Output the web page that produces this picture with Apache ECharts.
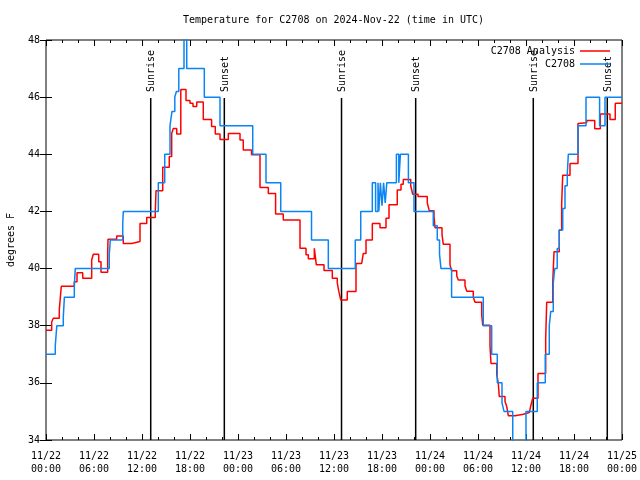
<!DOCTYPE html>
<html>
<head>
<meta charset="utf-8">
<script src="https://cdn.jsdelivr.net/npm/echarts@6/dist/echarts.min.js"></script>
<style>html,body{margin:0;padding:0;background:#fff;}#c{width:640px;height:480px;}</style>
</head>
<body>
<div id="c"></div>
<script>
// hours since 2024-11-22 00:00 UTC
var xTickLabels = ['11/22\n00:00','11/22\n06:00','11/22\n12:00','11/22\n18:00','11/23\n00:00','11/23\n06:00','11/23\n12:00','11/23\n18:00','11/24\n00:00','11/24\n06:00','11/24\n12:00','11/24\n18:00','11/25\n00:00'];
var yTicks = [34, 36, 38, 40, 42, 44, 46, 48];

var anaHours = [0, 0.71, 0.91, 1.66, 1.91, 3.54, 3.875, 4.59, 5.71, 5.91,
  6.59, 6.875, 7.71, 7.75, 8.84, 9.66, 10.71, 11.75, 12.59, 13.66,
  13.75, 14.59, 15.41, 15.71, 15.91, 16.34, 16.85, 17.5, 18.0, 18.375,
  18.84, 19.66, 20.7, 21.16, 21.75, 22.79, 24.25, 24.66, 25.7, 26.75,
  27.79, 28.7, 29.66, 31.75, 32.5, 32.79, 33.54, 33.79, 34.75, 35.79,
  36.41, 36.6, 36.75, 36.84, 37.66, 38.75, 39.46, 39.66, 40.0, 40.79,
  41.75, 42.5, 42.875, 43.91, 44.375, 44.66, 45.59, 45.84, 46.5, 47.66,
  47.91, 48.5, 48.625, 49.5, 49.66, 50.5, 50.7, 51.34, 51.54, 52.375,
  52.59, 53.41, 53.625, 54.46, 54.59, 55.5, 55.625, 56.34, 56.54, 56.66,
  57.375, 57.59, 57.79, 58.625, 59.66, 60.41, 60.59, 60.84, 61.5, 62.46,
  62.59, 63.34, 63.5, 64.16, 64.46, 64.59, 65.5, 66.5, 66.625, 67.59,
  68.59, 69.29, 70.5, 71.16, 72];
var anaTemps = [37.84, 38.13, 38.26, 38.55, 39.38, 39.54, 39.85, 39.66, 40.3, 40.5,
  40.24, 39.87, 40.5, 41.03, 41.14, 40.88, 40.95, 41.58, 41.79, 42.0,
  42.72, 43.55, 43.92, 44.73, 44.9, 44.71, 46.27, 45.88, 45.79, 45.67,
  45.83, 45.22, 44.97, 44.71, 44.52, 44.73, 44.5, 44.15, 43.98, 42.84,
  42.63, 41.91, 41.7, 40.71, 40.48, 40.34, 40.71, 40.13, 39.93, 39.66,
  39.5, 39.2, 39.02, 38.9, 39.2, 40.18, 40.24, 40.53, 41.0, 41.58,
  41.43, 41.76, 42.23, 42.75, 42.95, 43.12, 42.9, 42.6, 42.52, 42.3,
  42.02, 41.82, 41.43, 41.2, 40.85, 40.13, 39.92, 39.75, 39.6, 39.4,
  39.21, 39.0, 38.82, 38.4, 38.02, 37.3, 36.68, 36.3, 35.98, 35.52,
  35.35, 35.17, 34.85, 34.9, 34.96, 35.0, 35.19, 35.46, 36.33, 37.56,
  38.82, 39.5, 40.59, 41.35, 42.28, 43.27, 43.68, 45.08, 45.1, 45.18,
  44.89, 45.41, 45.22, 45.79, 45.79];

var obsHours = [0, 1.16, 1.35, 2.16, 2.3, 3.54, 3.66, 7.91, 8.04, 9.59,
  9.66, 14.04, 14.84, 15.5, 15.75, 16.1, 16.3, 16.6, 17.25, 17.59,
  19.79, 21.75, 25.84, 27.5, 29.34, 33.19, 35.29, 38.66, 39.34, 40.79,
  41.2, 41.5, 41.6, 41.8, 42.0, 42.2, 42.4, 42.6, 43.8, 44.1,
  44.3, 45.3, 46.0, 48.41, 48.91, 49.19, 49.375, 50.7, 54.66, 55.71,
  56.41, 57.0, 57.25, 58.34, 60.0, 61.41, 62.41, 62.91, 63.09, 63.41,
  63.59, 63.9, 64.16, 64.59, 64.875, 65.16, 65.29, 66.5, 67.5, 69.2,
  69.875, 72];
var obsTemps = [37.0, 37.3, 38.0, 38.3, 39.0, 39.4, 40.0, 40.5, 41.0, 41.55,
  42.0, 43.0, 44.0, 45.0, 45.5, 46.0, 46.2, 47.0, 48.5, 47.0,
  46.0, 45.0, 44.0, 43.0, 42.0, 41.0, 40.0, 41.0, 42.0, 43.0,
  42.0, 43.0, 42.0, 43.0, 42.2, 43.0, 42.3, 43.0, 44.0, 43.0,
  44.0, 43.0, 42.0, 41.5, 41.0, 40.5, 40.0, 39.0, 38.0, 37.0,
  36.0, 35.3, 35.0, 33.0, 35.0, 36.0, 37.0, 38.0, 38.5, 39.5,
  40.0, 40.7, 41.35, 42.1, 42.9, 43.3, 44.0, 45.0, 46.0, 45.0,
  46.0, 46.0];

var sunHours = [13.09, 22.29, 36.94, 46.21, 60.91, 70.16];
var sunLabels = ['Sunrise', 'Sunset', 'Sunrise', 'Sunset', 'Sunrise', 'Sunset'];
var sunLineTop = 45.97;

function zip(a, b) { var r = []; for (var i = 0; i < a.length; i++) r.push([a[i], b[i]]); return r; }

var FONT = 'DejaVu Sans Mono';
var chart = echarts.init(document.getElementById('c'), null, {renderer: 'canvas'});

var tickCommon = {show: true, inside: true, length: 6, lineStyle: {color: '#000', width: 1}};
var minorCommon = {show: true, splitNumber: 3, length: 3, lineStyle: {color: '#000', width: 1}};

chart.setOption({
  animation: false,
  backgroundColor: '#fff',
  title: {
    text: 'Temperature for C2708 on 2024-Nov-22 (time in UTC)',
    left: 183, top: 15, padding: 0,
    textStyle: {fontFamily: FONT, fontSize: 10, fontWeight: 'normal', color: '#000'}
  },
  legend: {
    orient: 'vertical', right: 30, top: 46, align: 'right', padding: 0,
    itemWidth: 30, itemHeight: 1.5, itemGap: 3, icon: 'rect',
    textStyle: {fontFamily: FONT, fontSize: 10, color: '#000'},
    data: ['C2708 Analysis', 'C2708']
  },
  grid: {left: 46, right: 18, top: 40, bottom: 40, containLabel: false, outerBoundsMode: 'none',
    show: true, borderColor: '#000', borderWidth: 1, backgroundColor: 'transparent'},
  xAxis: [{
    type: 'value', min: 0, max: 72, interval: 6, position: 'bottom',
    axisLine: {show: false}, splitLine: {show: false},
    axisTick: tickCommon, minorTick: minorCommon,
    axisLabel: {
      margin: 10, fontFamily: FONT, fontSize: 10, color: '#000', lineHeight: 13,
      showMinLabel: true, showMaxLabel: true,
      formatter: function (v) { return xTickLabels[Math.round(v / 6)]; }
    }
  }, {
    type: 'value', min: 0, max: 72, interval: 6, position: 'top',
    axisLine: {show: false}, splitLine: {show: false},
    axisTick: tickCommon, minorTick: minorCommon, axisLabel: {show: false}
  }],
  yAxis: [{
    type: 'value', min: yTicks[0], max: yTicks[yTicks.length - 1], interval: 2, position: 'left',
    name: 'degrees F', nameLocation: 'middle', nameGap: 30, nameRotate: 90,
    nameTextStyle: {fontFamily: FONT, fontSize: 10, color: '#000'},
    axisLine: {show: false}, splitLine: {show: false},
    axisTick: tickCommon,
    axisLabel: {margin: 6, fontFamily: FONT, fontSize: 10, color: '#000'}
  }, {
    type: 'value', min: yTicks[0], max: yTicks[yTicks.length - 1], interval: 2, position: 'right',
    axisLine: {show: false}, splitLine: {show: false},
    axisTick: tickCommon, axisLabel: {show: false}
  }],
  series: [{
    type: 'custom', name: 'sun', xAxisIndex: 0, yAxisIndex: 0, z: 1,
    data: sunHours.map(function (h, i) { return [h, i]; }),
    renderItem: function (params, api) {
      var h = api.value(0), idx = api.value(1);
      var p0 = api.coord([h, yTicks[0]]);
      var p1 = api.coord([h, sunLineTop]);
      return {type: 'group', children: [
        {type: 'line', shape: {x1: p0[0], y1: p0[1], x2: p1[0], y2: p1[1]}, style: {stroke: '#000', lineWidth: 1.5}},
        {type: 'text', x: p1[0] + 1, y: p1[1] - 6, rotation: Math.PI / 2,
          style: {text: sunLabels[idx], font: '10px "' + FONT + '"', fill: '#000', align: 'left', verticalAlign: 'middle'}}
      ]};
    }
  }, {
    type: 'line', name: 'C2708 Analysis', step: 'end', symbol: 'none', z: 3,
    lineStyle: {color: '#ff0000', width: 1.5}, itemStyle: {color: '#ff0000'},
    data: zip(anaHours, anaTemps)
  }, {
    type: 'line', name: 'C2708', step: 'end', symbol: 'none', z: 4,
    lineStyle: {color: '#0a84f5', width: 1.5}, itemStyle: {color: '#0a84f5'},
    data: zip(obsHours, obsTemps)
  }]
});
</script>
</body>
</html>
